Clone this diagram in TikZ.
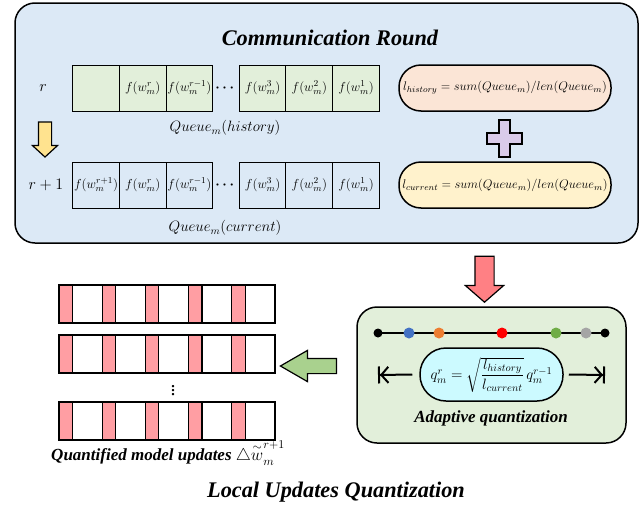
\documentclass[tikz,border=0pt]{standalone}
\usepackage{fix-cm}
\usepackage{amsmath}
\usepackage{fontspec}
\setmainfont{Liberation Serif}
\usetikzlibrary{positioning, shapes.arrows, arrows.meta}

\definecolor{roundblue}{HTML}{DCE9F6}
\definecolor{histgreen}{HTML}{E2EFDA}
\definecolor{pillpeach}{HTML}{FBE5D6}
\definecolor{pillyellow}{HTML}{FFF2CC}
\definecolor{pluspurple}{HTML}{D9CBEA}
\definecolor{arrowyellow}{HTML}{FFE38F}
\definecolor{arrowred}{HTML}{FF8084}
\definecolor{arrowgreen}{HTML}{A9D18E}
\definecolor{formcyan}{HTML}{CCFAFF}
\definecolor{bitpink}{HTML}{FF9EA3}
\definecolor{dotblue}{HTML}{4472C4}
\definecolor{dotorange}{HTML}{ED7D31}
\definecolor{dotred}{HTML}{FF0000}
\definecolor{dotgreen}{HTML}{70AD47}
\definecolor{dotgray}{HTML}{A5A5A5}

\tikzset{
  panel/.style={draw, line width=1.5pt, rounded corners=20pt, inner sep=0pt},
  qcell/.style={draw, line width=1pt, minimum width=46.7pt, minimum height=46pt,
    inner sep=0pt, font=\fontsize{13}{14}\selectfont},
  pill/.style={draw, line width=1.5pt, rounded corners=22pt, minimum width=212pt,
    minimum height=46pt, inner sep=0pt, font=\fontsize{12.5}{13}\selectfont},
  bigarrow/.style={single arrow, draw, line width=1.2pt, inner xsep=0pt,
    single arrow head indent=0pt},
  qdot/.style={circle, inner sep=0pt, minimum size=11pt},
  bit/.style={draw, line width=1.2pt, minimum height=38pt, inner sep=0pt, outer sep=0pt},
  title/.style={font=\fontsize{22.3}{24}\selectfont\bfseries\itshape},
  caption/.style={font=\fontsize{17}{18}\selectfont\bfseries\itshape},
  bound/.style={line width=2pt, -{Straight Barb[length=7pt,width=16pt] Bar[width=17pt]}}
}

\begin{document}
\begin{tikzpicture}[x=1pt, y=-1pt]
  \useasboundingbox (0,0) rectangle (644,514);

  % communication round
  \node[panel, fill=roundblue, minimum width=623pt, minimum height=240pt] (round) at (326.5,123) {};
  \node[title] (roundtitle) at (330,38) {Communication Round};

  \node[font=\fontsize{16}{16}\selectfont] (rold) at (43,88) {$r$};
  \node[font=\fontsize{16}{16}\selectfont] (rnew) at (46,185) {$r+1$};

  \foreach \i/\x/\t in {1/96/{}, 2/142.7/{f(w_m^r)}, 3/189.4/{f(w_m^{r-1})},
                         4/262.6/{f(w_m^3)}, 5/309.3/{f(w_m^2)}, 6/356/{f(w_m^1)}}
    \node[qcell, fill=histgreen] (h\i) at (\x,88) {$\t$};
  \foreach \i/\x/\t in {1/96/{f(w_m^{r+1})}, 2/142.7/{f(w_m^r)}, 3/189.4/{f(w_m^{r-1})},
                         4/262.6/{f(w_m^3)}, 5/309.3/{f(w_m^2)}, 6/356/{f(w_m^1)}}
    \node[qcell] (c\i) at (\x,185) {$\t$};
  \node[font=\fontsize{14}{14}\selectfont] (hdots) at (226,88) {$\boldsymbol{\cdots}$};
  \node[font=\fontsize{14}{14}\selectfont] (cdots) at (226,185) {$\boldsymbol{\cdots}$};

  \node[font=\fontsize{15}{15}\selectfont] (histlabel) at (225,128) {$Queue_m(history)$};
  \node[font=\fontsize{15}{15}\selectfont] (curlabel) at (225,228) {$Queue_m(current)$};

  \node[bigarrow, fill=arrowyellow, rotate=-90, inner ysep=6pt, minimum height=35pt,
        single arrow head extend=6pt, single arrow tip angle=95] (nextround) at (45,136.5) {};

  \node[pill, fill=pillpeach] (lhist) at (505,88) {$l_{history} = sum(Queue_m)/len(Queue_m)$};
  \node[pill, fill=pillyellow] (lcur) at (505,185) {$l_{current} = sum(Queue_m)/len(Queue_m)$};

  \begin{scope}[shift={(504.5,138.5)}]
    \draw[line width=1.8pt, fill=pluspurple, line join=miter]
      (-5.2,-18.5) -- (5.2,-18.5) -- (5.2,-5.2) -- (17.5,-5.2) -- (17.5,5.2) -- (5.2,5.2)
      -- (5.2,18.5) -- (-5.2,18.5) -- (-5.2,5.2) -- (-17.5,5.2) -- (-17.5,-5.2) -- (-5.2,-5.2) -- cycle;
  \end{scope}

  \node[bigarrow, fill=arrowred, rotate=-90, inner ysep=9pt, minimum height=46pt,
        single arrow head extend=9.5pt, single arrow tip angle=98] (toquant) at (484.5,275) {};

  % adaptive quantization
  \node[panel, fill=histgreen, minimum width=269pt, minimum height=136pt] (quant) at (491.5,375) {};
  \coordinate (qleft) at (378,333);
  \coordinate (qright) at (605,333);
  \draw[line width=2pt] (qleft) -- (qright);
  \foreach \n/\x/\c/\s in {0/378/black/9, 1/409/dotblue/11, 2/439/dotorange/11,
                           3/502/dotred/11, 4/556/dotgreen/11, 5/586/dotgray/11, 6/605/black/9}
    \node[qdot, fill=\c, minimum size=\s pt] (d\n) at (\x,333) {};

  \node[pill, fill=formcyan, minimum width=143pt, minimum height=53pt, rounded corners=26pt,
        font=\fontsize{15}{16}\selectfont] (qform) at (491.5,374.5)
        {$q_m^r = \sqrt{\dfrac{l_{history}}{l_{current}}}\, q_m^{r-1}$};
  \coordinate (qlo) at (378,375);
  \coordinate (qhi) at (605,375);
  \draw[bound] ([xshift=-7pt]qform.west) -- (qlo);
  \draw[bound] ([xshift=5pt]qform.east) -- (qhi);
  \node[caption] (quantlabel) at (491,418) {Adaptive quantization};

  \node[bigarrow, fill=arrowgreen, rotate=180, inner ysep=7pt, minimum height=56pt,
        single arrow head extend=8pt, single arrow tip angle=60] (toupdates) at (315,366) {};

  % quantified updates
  \foreach \r/\y in {1/304, 2/354, 3/421}
    \foreach \k in {0,...,4}
    {
      \node[bit, fill=bitpink, minimum width=13.3pt] (p\r\k) at ({65.65+43.2*\k},\y) {};
      \node[bit, fill=white, minimum width=29.9pt, right=0pt of p\r\k] (w\r\k) {};
    }
  \node[font=\fontsize{20}{20}\selectfont] (rowdots) at (173,388) {$\boldsymbol{\vdots}$};
  \node[caption] (updlabel) at (168,453)
    {Quantified model updates $\triangle\overset{\sim}{w}_m^{r+1}$};

  \node[title] (bottomtitle) at (336,492) {Local Updates Quantization};
\end{tikzpicture}
\end{document}
